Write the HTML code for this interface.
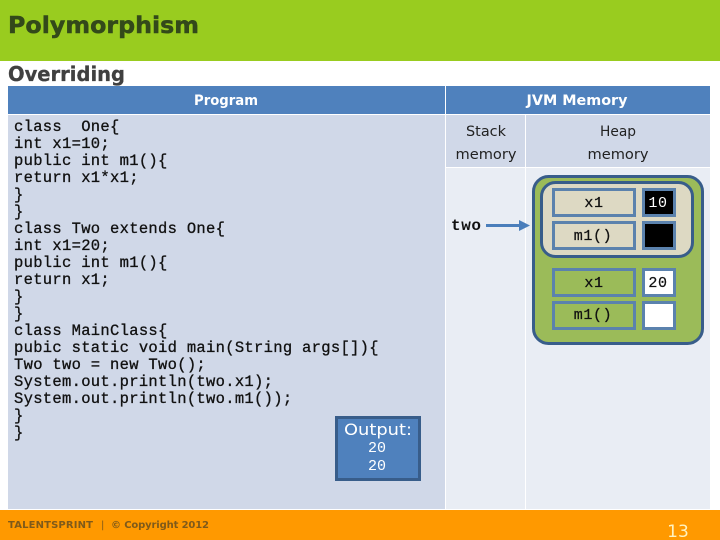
<!DOCTYPE html>
<html><head><meta charset="utf-8"><style>
html,body{margin:0;padding:0;background:#fff}
svg{display:block}
.c{font-family:"Liberation Mono",monospace;font-size:15.5px;letter-spacing:.3px;fill:#111;stroke:#111;stroke-width:.3px;white-space:pre}
.s{font-family:"DejaVu Sans",sans-serif}
.m{font-family:"Liberation Mono",monospace;font-size:15px;letter-spacing:.6px;fill:#111;stroke:#111;stroke-width:.25px}
</style></head><body>
<svg width="720" height="540" viewBox="0 0 720 540" xmlns="http://www.w3.org/2000/svg">
<rect width="720" height="540" fill="#fff"/>
<rect width="720" height="61" fill="#99cc1f"/>
<text x="8" y="33" class="s" font-size="23.5" font-weight="bold" fill="#33491a" stroke="#33491a" stroke-width=".5" textLength="191" lengthAdjust="spacingAndGlyphs">Polymorphism</text>
<text x="8" y="81" class="s" font-size="20" font-weight="bold" fill="#404040" stroke="#404040" stroke-width=".3" textLength="117" lengthAdjust="spacingAndGlyphs">Overriding</text>

<rect x="8" y="86" width="437" height="28" fill="#4f81bd"/>
<rect x="446" y="86" width="264" height="28" fill="#4f81bd"/>
<text x="226" y="105" text-anchor="middle" class="s" font-size="14" font-weight="bold" fill="#fff" textLength="64" lengthAdjust="spacingAndGlyphs">Program</text>
<text x="577" y="105" text-anchor="middle" class="s" font-size="14" font-weight="bold" fill="#fff" textLength="101" lengthAdjust="spacingAndGlyphs">JVM Memory</text>

<rect x="8" y="115" width="437" height="394" fill="#d0d8e8"/>
<rect x="446" y="115" width="79" height="52" fill="#d0d8e8"/>
<rect x="526" y="115" width="184" height="52" fill="#d0d8e8"/>
<rect x="446" y="168" width="79" height="341" fill="#e9edf4"/>
<rect x="526" y="168" width="184" height="341" fill="#e9edf4"/>

<text x="486" y="136" text-anchor="middle" class="s" font-size="14.5" fill="#222" textLength="40" lengthAdjust="spacingAndGlyphs">Stack</text>
<text x="486" y="159" text-anchor="middle" class="s" font-size="14.5" fill="#222" textLength="61" lengthAdjust="spacingAndGlyphs">memory</text>
<text x="618" y="136" text-anchor="middle" class="s" font-size="14.5" fill="#222" textLength="36" lengthAdjust="spacingAndGlyphs">Heap</text>
<text x="618" y="159" text-anchor="middle" class="s" font-size="14.5" fill="#222" textLength="61" lengthAdjust="spacingAndGlyphs">memory</text>

<text x="14" y="131" class="c" xml:space="preserve">class  One{</text>
<text x="14" y="148" class="c">int x1=10;</text>
<text x="14" y="165" class="c">public int m1(){</text>
<text x="14" y="182" class="c">return x1*x1;</text>
<text x="14" y="199" class="c">}</text>
<text x="14" y="216" class="c">}</text>
<text x="14" y="233" class="c">class Two extends One{</text>
<text x="14" y="250" class="c">int x1=20;</text>
<text x="14" y="267" class="c">public int m1(){</text>
<text x="14" y="284" class="c">return x1;</text>
<text x="14" y="301" class="c">}</text>
<text x="14" y="318" class="c">}</text>
<text x="14" y="335" class="c">class MainClass{</text>
<text x="14" y="352" class="c">pubic static void main(String args[]){</text>
<text x="14" y="369" class="c">Two two = new Two();</text>
<text x="14" y="386" class="c">System.out.println(two.x1);</text>
<text x="14" y="403" class="c">System.out.println(two.m1());</text>
<text x="14" y="420" class="c">}</text>
<text x="14" y="437" class="c">}</text>

<rect x="336.5" y="417.5" width="83" height="62" fill="#4f81bd" stroke="#385d8a" stroke-width="3"/>
<text x="378" y="435" text-anchor="middle" class="s" font-size="16" fill="#fff" textLength="68" lengthAdjust="spacingAndGlyphs">Output:</text>
<text x="377" y="452" text-anchor="middle" font-family="Liberation Mono, monospace" font-size="15" fill="#fff">20</text>
<text x="377" y="470" text-anchor="middle" font-family="Liberation Mono, monospace" font-size="15" fill="#fff">20</text>

<text x="451" y="230" font-family="Liberation Mono, monospace" font-size="16" font-weight="bold" fill="#111" textLength="30">two</text>
<line x1="486" y1="225.500" x2="520" y2="225.500" stroke="#4a7ebb" stroke-width="3"/>
<polygon points="519,220 530,225.500 519,231" fill="#4a7ebb"/>

<rect x="533.5" y="176.5" width="169" height="167" rx="15" fill="#9bbb59" stroke="#385d8a" stroke-width="3"/>
<rect x="541.5" y="182.5" width="151" height="74" rx="14" fill="#ddd9c3" stroke="#385d8a" stroke-width="3"/>

<rect x="553.5" y="189.5" width="81" height="26" fill="#ddd9c3" stroke="#5b82ad" stroke-width="3"/>
<rect x="553.5" y="222.5" width="81" height="26" fill="#ddd9c3" stroke="#5b82ad" stroke-width="3"/>
<rect x="643.5" y="189.5" width="31" height="26" fill="#000" stroke="#5b82ad" stroke-width="3"/>
<rect x="643.5" y="222.5" width="31" height="26" fill="#000" stroke="#5b82ad" stroke-width="3"/>
<rect x="553.5" y="269.5" width="81" height="26" fill="#9bbb59" stroke="#5b82ad" stroke-width="3"/>
<rect x="553.5" y="302.5" width="81" height="26" fill="#9bbb59" stroke="#5b82ad" stroke-width="3"/>
<rect x="643.5" y="269.5" width="31" height="26" fill="#fff" stroke="#5b82ad" stroke-width="3"/>
<rect x="643.5" y="302.5" width="31" height="26" fill="#fff" stroke="#5b82ad" stroke-width="3"/>

<text x="594" y="207" text-anchor="middle" class="m">x1</text>
<text x="593" y="240" text-anchor="middle" class="m">m1()</text>
<text x="594" y="287" text-anchor="middle" class="m">x1</text>
<text x="593" y="319" text-anchor="middle" class="m">m1()</text>
<text x="658" y="207" text-anchor="middle" font-family="Liberation Mono, monospace" font-size="15" letter-spacing=".6" fill="#fff">10</text>
<text x="658" y="287" text-anchor="middle" class="m">20</text>

<rect x="0" y="510" width="720" height="30" fill="#ff9900"/>
<text x="8" y="528" class="s" font-size="10" font-weight="bold" fill="#7f5a1a" textLength="85" lengthAdjust="spacing">TALENTSPRINT</text>
<text x="101" y="528" class="s" font-size="10" fill="#7f5a1a">|</text>
<text x="111" y="528" class="s" font-size="10" font-weight="bold" fill="#7f5a1a" textLength="98" lengthAdjust="spacing">© Copyright 2012</text>
<text x="678" y="537" text-anchor="middle" class="s" font-size="17" fill="#fff3c0">13</text>
</svg>
</body></html>
